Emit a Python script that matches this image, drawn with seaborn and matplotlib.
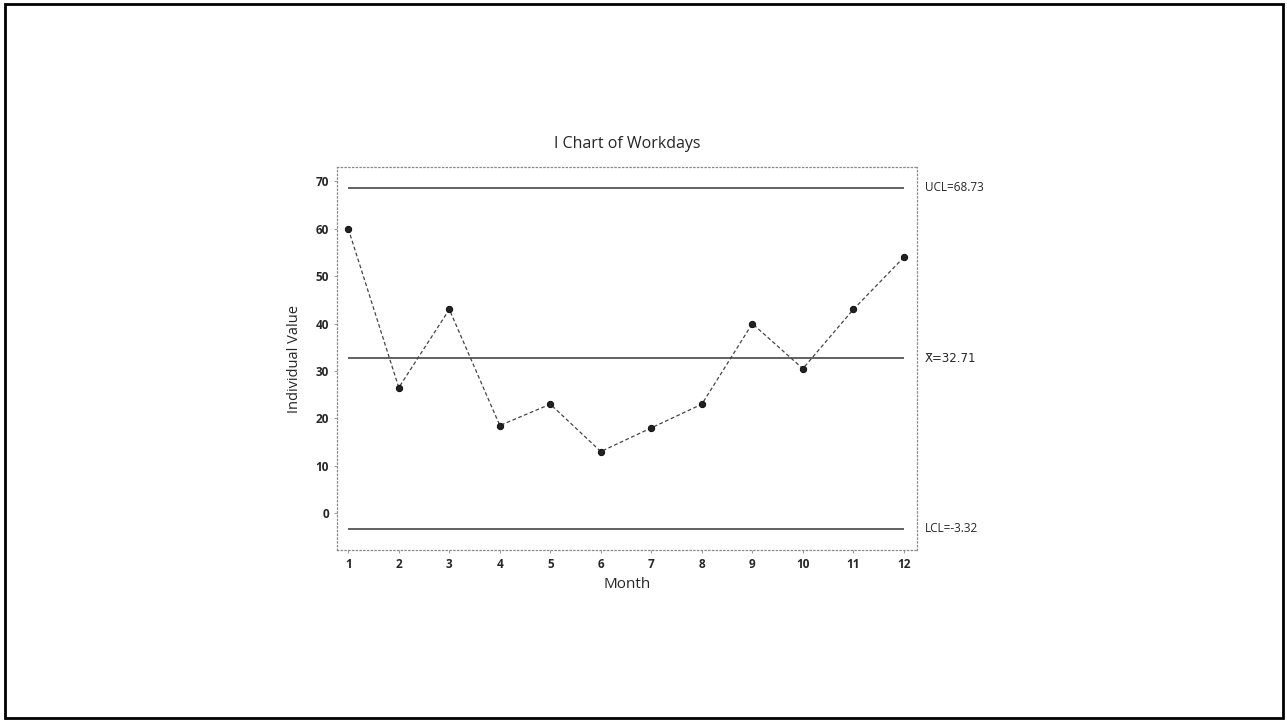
import matplotlib
matplotlib.use("Agg")
import matplotlib.pyplot as plt
import seaborn as sns
import pandas as pd
from matplotlib.patches import Rectangle

months = [1, 2, 3, 4, 5, 6, 7, 8, 9, 10, 11, 12]
workdays = [60, 26.5, 43, 18.5, 23, 13, 18, 23, 40, 30.5, 43, 54]
ucl = 68.73
center = 32.71
lcl = -3.32
yticks = [0, 10, 20, 30, 40, 50, 60, 70]

sns.set_theme(style="white")
plt.rcParams['font.family'] = ['Open Sans', 'DejaVu Sans']

df = pd.DataFrame({"Month": months, "Individual Value": workdays})

fig = plt.figure(figsize=(12.87, 7.21), dpi=100)
ax = fig.add_axes([0.262, 0.237, 0.4505, 0.531])

ax.hlines([ucl, center, lcl], months[0], months[-1], color="#555555", lw=1.3, zorder=1)

sns.lineplot(data=df, x="Month", y="Individual Value", ax=ax, color="#444444",
             lw=0.9, linestyle=(0, (3, 2)), marker="o", markersize=4.5,
             markerfacecolor="#222222", markeredgecolor="#111111", zorder=3)

ax.set_xlim(0.78, 12.26)
ax.set_ylim(-7.8, 73)
ax.set_xticks(months)
ax.set_xticklabels([str(m) for m in months], fontsize=8.5, fontweight="bold")
ax.set_yticks(yticks)
ax.set_yticklabels([str(t) for t in yticks], fontsize=8.5, fontweight="bold")
ax.tick_params(axis="both", length=2, width=0.6, color="#888888", pad=4)
ax.tick_params(axis="y", left=True)
ax.tick_params(axis="x", bottom=True)

for s in ax.spines.values():
    s.set_linestyle((0, (1, 2)))
    s.set_color("#888888")
    s.set_linewidth(0.9)

ax.set_title("I Chart of Workdays", fontsize=11.5, pad=14)
ax.set_xlabel("Month", fontsize=11, labelpad=4)
ax.set_ylabel("Individual Value", fontsize=10.5, labelpad=10)

tr = ax.get_yaxis_transform()
ax.text(1.013, ucl, f"UCL={ucl}", transform=tr, va="center", ha="left", fontsize=8.5)
ax.text(1.013, center, f"X\u0304={center}", transform=tr, va="center", ha="left", fontsize=8.5,
        family=['DejaVu Sans'])
ax.text(1.013, lcl, f"LCL={lcl}", transform=tr, va="center", ha="left", fontsize=8.5)

fig.patches.append(Rectangle((0.004, 0.004), 0.993, 0.991, transform=fig.transFigure,
                             fill=False, edgecolor="black", lw=2))

fig.savefig("out.png", dpi=100, facecolor="white")
